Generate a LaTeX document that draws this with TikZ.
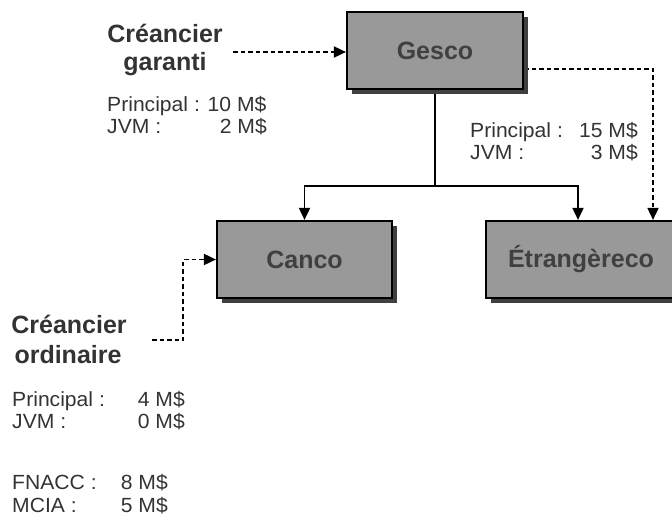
\documentclass[tikz,border=0pt]{standalone}
\usepackage{fontspec}
\setmainfont{Liberation Sans}
\newfontfamily\regfont{Liberation Sans}[FakeStretch=1.03]
\usetikzlibrary{arrows.meta,shadows,backgrounds}
\definecolor{boxgray}{HTML}{999999}
\definecolor{inktext}{HTML}{404040}
\definecolor{labeltext}{HTML}{333333}
\tikzset{
  entity/.style={draw=black, line width=2.2pt, fill=boxgray, inner sep=0pt,
    minimum height=77pt, text=inktext,
    font=\fontsize{25}{28}\selectfont\bfseries,
    drop shadow={shadow xshift=5pt, shadow yshift=-5pt, fill=black!75, opacity=1}},
  title/.style={inner sep=0pt, anchor=base, text=labeltext,
    font=\fontsize{25}{28}\selectfont\bfseries},
  amount/.style={inner sep=0pt, text=labeltext, font=\fontsize{20.5}{23}\regfont},
  tree/.style={line width=1.8pt, -{Triangle[length=12pt,width=11pt]}},
  link/.style={line width=1.8pt, dash pattern=on 4.5pt off 3pt,
    -{Triangle[length=12pt,width=11pt]}}
}
\begin{document}
\begin{tikzpicture}[x=1pt, y=-1pt]
\useasboundingbox (0,0) rectangle (672,517);

% entities
\node[entity, minimum width=176pt] (gesco) at (435,50.5) {Gesco};
\node[entity, minimum width=175pt] (canco) at (304.5,259.5) {Canco};
\node[entity, minimum width=190pt] (etr) at (581,259.5) {Étrangèreco};

% creditors
\node[title] (cg1) at (165,42) {Créancier};
\node[title] (cg2) at (165,70) {garanti};
\node[title] (co1) at (69,333) {Créancier};
\node[title] (co2) at (68,363) {ordinaire};

% amounts owed to the secured creditor
\node[amount, anchor=base west] (gp) at (107,111) {Principal : 10 M\$};
\node[amount, anchor=base west] (gj) at (107,133) {JVM :};
\node[amount, anchor=base east] (gjv) at (267,133) {2 M\$};

% amounts of the foreign subsidiary
\node[amount, anchor=base west] (ep) at (470,137) {Principal :};
\node[amount, anchor=base east] (epv) at (638,137) {15 M\$};
\node[amount, anchor=base west] (ej) at (470,159) {JVM :};
\node[amount, anchor=base east] (ejv) at (638,159) {3 M\$};

% amounts of the ordinary creditor
\node[amount, anchor=base west] (op) at (12,406) {Principal :};
\node[amount, anchor=base east] (opv) at (185,406) {4 M\$};
\node[amount, anchor=base west] (oj) at (12,428) {JVM :};
\node[amount, anchor=base east] (ojv) at (185,428) {0 M\$};
\node[amount, anchor=base west] (fn) at (12,489) {FNACC :};
\node[amount, anchor=base east] (fnv) at (168,489) {8 M\$};
\node[amount, anchor=base west] (mc) at (12,512) {MCIA :};
\node[amount, anchor=base east] (mcv) at (168,512) {5 M\$};

\begin{pgfonlayer}{background}
  % ownership tree
  \draw[line width=1.8pt] (gesco.south) -- (435,186) coordinate (split);
  \draw[tree] (split) -| (canco.north);
  \draw[tree] (split) -| ([xshift=-3pt]etr.north);
  % creditor links
  \coordinate (cgstart) at (233,52);
  \draw[link] (cgstart) -- (cgstart -| gesco.west);
  \draw[link] ([yshift=-18.5pt]gesco.east) -| ([xshift=72pt]etr.north);
  \coordinate (costart) at (152,340);
  \draw[link] (costart) -- (183,340) |- (canco.west);
\end{pgfonlayer}
\end{tikzpicture}
\end{document}
